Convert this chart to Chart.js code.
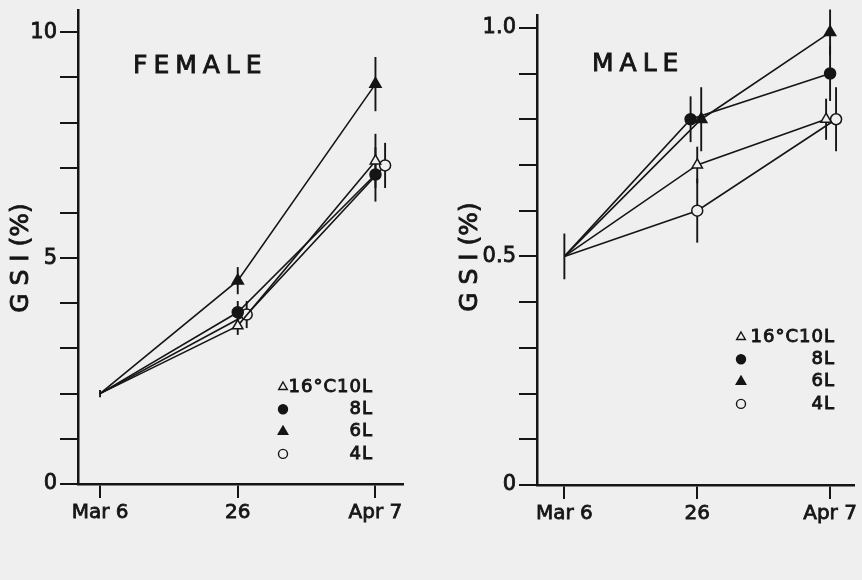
<!DOCTYPE html>
<html>
<head>
<meta charset="utf-8">
<script src="https://cdn.jsdelivr.net/npm/chart.js@4.4.1/dist/chart.umd.min.js"></script>
<style>
  html, body { margin: 0; padding: 0; background: #efefef; }
  #wrap { position: relative; width: 862px; height: 580px; overflow: hidden; }
  .panel { position: absolute; top: 0; width: 431px; height: 580px; }
</style>
</head>
<body>
<div id="wrap">
  <div class="panel" style="left:0"><canvas id="female" width="431" height="580"></canvas></div>
  <div class="panel" style="left:431px"><canvas id="male" width="431" height="580"></canvas></div>
</div>
<script>
const dates = ['Mar 6', '26', 'Apr 7'];
const groups = ['16°C10L', '8L', '6L', '4L'];

// female GSI (%) and error bar half-lengths
const female10L = [2.0, 3.5, 7.15];
const female8L = [2.0, 3.8, 6.85];
const female6L = [2.0, 4.5, 8.85];
const female4L = [2.0, 3.75, 7.05];
const femaleErr10L = [0.08, 0.2, 0.6];
const femaleErr8L = [0, 0.25, 0.6];
const femaleErr6L = [0, 0.3, 0.6];
const femaleErr4L = [0, 0.3, 0.5];

// male GSI (%)
const male10L = [0.5, 0.7, 0.8];
const male8L = [0.5, 0.8, 0.9];
const male6L = [0.5, 0.8, 0.99];
const male4L = [0.5, 0.6, 0.8];
const maleErr10L = [0.05, 0.04, 0.045];
const maleErr8L = [0, 0.05, 0.06];
const maleErr6L = [0, 0.07, 0.05];
const maleErr4L = [0, 0.07, 0.07];

const ink = '#151515';
const paper = '#efefef';
const font = '"DejaVu Sans", sans-serif';

// marker look for each group
const markers = [
  { style: 'triangle', filled: false, r: 6 },
  { style: 'circle', filled: true, r: 5.5 },
  { style: 'triangle', filled: true, r: 6.5 },
  { style: 'circle', filled: false, r: 5.5 }
];

// small sideways nudges so overlapping symbols stay visible (x units)
const femaleNudge = [[0, 0, 0], [0, 0, 0], [0, 0, 0], [0, 0.065, 0.07]];
const maleNudge = [[0, 0, -0.03], [0, -0.05, 0], [0, 0.03, 0], [0, 0, 0.045]];

function makeDatasets(series, errs, nudge) {
  return series.map((vals, i) => {
    const m = markers[i];
    return {
      label: groups[i],
      data: vals.map((v, j) => ({ x: j + nudge[i][j], y: v })),
      err: errs[i],
      borderColor: ink,
      borderWidth: 1.6,
      tension: 0,
      pointStyle: m.style,
      pointRadius: [0, m.r, m.r],
      pointBorderWidth: 1.5,
      pointBorderColor: ink,
      pointBackgroundColor: m.filled ? ink : paper
    };
  });
}

const errorBars = {
  id: 'errorBars',
  beforeDatasetsDraw(chart) {
    const ctx = chart.ctx;
    const y = chart.scales.y;
    ctx.save();
    ctx.strokeStyle = ink;
    ctx.lineWidth = 1.9;
    chart.data.datasets.forEach((ds, i) => {
      chart.getDatasetMeta(i).data.forEach((pt, j) => {
        const e = ds.err[j];
        if (!e) return;
        const v = ds.data[j].y;
        ctx.beginPath();
        ctx.moveTo(pt.x, y.getPixelForValue(v - e));
        ctx.lineTo(pt.x, y.getPixelForValue(v + e));
        ctx.stroke();
      });
    });
    ctx.restore();
  }
};

function boldText(ctx, txt, x, y) {
  ctx.strokeStyle = ink;
  ctx.lineWidth = 0.9;
  ctx.strokeText(txt, x, y);
  ctx.fillText(txt, x, y);
}

const panelText = {
  id: 'panelText',
  afterDraw(chart, args, o) {
    const ctx = chart.ctx;
    ctx.save();
    ctx.fillStyle = ink;
    ctx.textBaseline = 'middle';

    // panel name
    ctx.font = '25px ' + font;
    ctx.letterSpacing = '6px';
    ctx.textAlign = 'left';
    boldText(ctx, o.title, o.titleX, o.titleY);

    // legend
    ctx.font = '18px ' + font;
    ctx.letterSpacing = '1px';
    chart.data.datasets.forEach((ds, i) => {
      const m = markers[i];
      const ry = o.legY + i * o.legStep;
      ctx.fillStyle = ink;
      ctx.textAlign = 'right';
      boldText(ctx, ds.label, o.legRight, ry);
      ctx.fillStyle = m.filled ? ink : paper;
      ctx.strokeStyle = ink;
      ctx.lineWidth = 1.4;
      Chart.helpers.drawPoint(ctx, { pointStyle: m.style, radius: m.r - 1, rotation: 0, borderWidth: 1.4 }, o.legX, ry);
    });

    // y axis title
    ctx.fillStyle = ink;
    ctx.font = '25px ' + font;
    ctx.letterSpacing = '0px';
    ctx.textAlign = 'center';
    ctx.translate(o.yTitleX, o.yTitleY);
    ctx.rotate(-Math.PI / 2);
    boldText(ctx, 'G S I (%)', 0, 0);
    ctx.restore();
  }
};

function makeChart(id, datasets, s) {
  return new Chart(document.getElementById(id), {
    type: 'line',
    data: { datasets },
    plugins: [errorBars, panelText],
    options: {
      responsive: false,
      animation: false,
      devicePixelRatio: 1,
      layout: { padding: { top: s.top, right: s.right, left: 0, bottom: 0 } },
      plugins: {
        legend: { display: false },
        tooltip: { enabled: false },
        panelText: s.text
      },
      scales: {
        x: {
          type: 'linear',
          min: s.xMin,
          max: s.xMax,
          afterBuildTicks: sc => { sc.ticks = [0, 1, 2].map(v => ({ value: v })); },
          afterFit: sc => { sc.height = s.xHeight; sc.paddingLeft = 0; sc.paddingRight = 0; },
          ticks: {
            callback: v => dates[v],
            color: ink,
            textStrokeColor: ink,
            textStrokeWidth: 0.8,
            font: { family: font, size: 20 },
            padding: 3,
            maxRotation: 0,
            autoSkip: false
          },
          grid: { drawOnChartArea: false, color: ink, lineWidth: 2, tickLength: 14 },
          border: { color: ink, width: 2.5 }
        },
        y: {
          min: 0,
          max: s.yMax,
          afterFit: sc => { sc.width = s.yWidth; sc.paddingTop = 0; sc.paddingBottom = 0; },
          ticks: {
            stepSize: s.step,
            includeBounds: false,
            autoSkip: false,
            callback: s.yLabel,
            color: ink,
            textStrokeColor: ink,
            textStrokeWidth: 0.8,
            font: { family: font, size: 21 },
            padding: 3
          },
          grid: { drawOnChartArea: false, color: ink, lineWidth: 2, tickLength: 18 },
          border: { color: ink, width: 2.5 }
        }
      }
    }
  });
}

makeChart('female',
  makeDatasets([female10L, female8L, female6L, female4L],
    [femaleErr10L, femaleErr8L, femaleErr6L, femaleErr4L], femaleNudge),
  {
    top: 10, right: 28, xHeight: 96, yWidth: 78,
    xMin: -0.16, xMax: 2.2, yMax: 10.49, step: 1,
    yLabel: v => (Math.round(v) % 5 === 0 ? String(Math.round(v)) : ''),
    text: {
      title: 'FEMALE', titleX: 133, titleY: 66,
      legX: 283, legRight: 373, legY: 387, legStep: 22.3,
      yTitleX: 21, yTitleY: 258
    }
  });

makeChart('male',
  makeDatasets([male10L, male8L, male6L, male4L],
    [maleErr10L, maleErr8L, maleErr6L, maleErr4L], maleNudge),
  {
    top: 15, right: 0, xHeight: 95, yWidth: 106,
    xMin: -0.206, xMax: 2.18, yMax: 1.028, step: 0.1,
    yLabel: v => {
      const r = Math.round(v * 10);
      if (r === 0) return '0';
      if (r === 5) return '0.5';
      if (r === 10) return '1.0';
      return '';
    },
    text: {
      title: 'MALE', titleX: 161, titleY: 64,
      legX: 310, legRight: 404, legY: 337, legStep: 22.3,
      yTitleX: 39, yTitleY: 257
    }
  });
</script>
</body>
</html>
